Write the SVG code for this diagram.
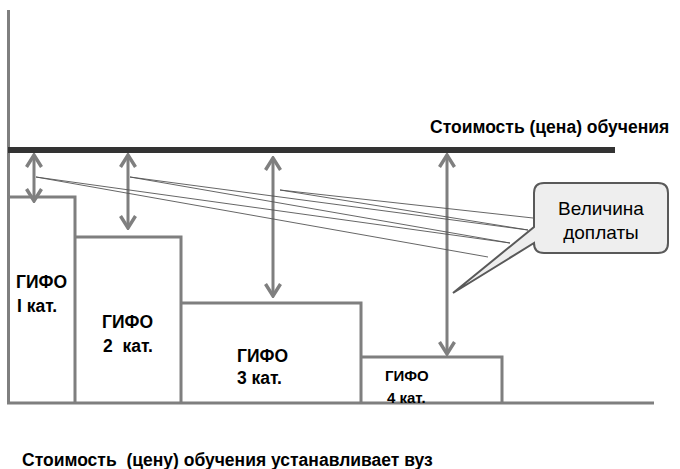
<svg xmlns="http://www.w3.org/2000/svg" width="680" height="469" viewBox="0 0 680 469">
  <style>
    .frame { fill: none; stroke: #7f7f7f; stroke-width: 3; }
    .arr { fill: none; stroke: #7f7f7f; stroke-width: 3; }
    .thin { fill: none; stroke: #555555; stroke-width: 0.9; }
    .lbl { font-family: "Liberation Sans", Arial, sans-serif; font-weight: bold; font-size: 17.5px; fill: #000; }
    .sm { font-size: 15px; }
    .call { font-family: "Liberation Sans", Arial, sans-serif; font-size: 19px; fill: #000; }
  </style>
  <defs>
    <marker id="head" markerUnits="userSpaceOnUse" viewBox="-16 -10 18 20" refX="0" refY="0" markerWidth="18" markerHeight="20" orient="auto-start-reverse">
      <path d="M-12,-7.5 L0,0 L-12,7.5" fill="none" stroke="#7f7f7f" stroke-width="3.4"/>
    </marker>
  </defs>
  <rect width="680" height="469" fill="#ffffff"/>

  <g id="axes">
    <line x1="8.5" y1="10" x2="8.5" y2="404" class="frame"/>
    <line x1="7" y1="403" x2="654" y2="403" class="frame"/>
    <line x1="8" y1="150" x2="615" y2="150" stroke="#333333" stroke-width="6"/>
  </g>

  <g id="gifo1">
    <polyline points="8,197 75,197 75,403" class="frame"/>
    <text x="16" y="288" class="lbl">ГИФО</text>
    <text x="17" y="312" class="lbl">I кат.</text>
  </g>
  <g id="gifo2">
    <polyline points="75,237 181,237 181,403" class="frame"/>
    <text x="102" y="328" class="lbl">ГИФО</text>
    <text x="103" y="352" class="lbl" xml:space="preserve">2  кат.</text>
  </g>
  <g id="gifo3">
    <polyline points="181,303 361,303 361,403" class="frame"/>
    <text x="237" y="362" class="lbl">ГИФО</text>
    <text x="237" y="384" class="lbl">3 кат.</text>
  </g>
  <g id="gifo4">
    <polyline points="361,357 502,357 502,403" class="frame"/>
    <text x="385" y="381" class="lbl sm">ГИФО</text>
    <text x="387" y="403" class="lbl sm">4 кат.</text>
  </g>

  <g id="connectors">
    <line x1="34" y1="155" x2="34" y2="201" class="arr" marker-start="url(#head)" marker-end="url(#head)"/>
    <line x1="128" y1="155" x2="128" y2="228" class="arr" marker-start="url(#head)" marker-end="url(#head)"/>
    <line x1="273" y1="158" x2="273" y2="296" class="arr" marker-start="url(#head)" marker-end="url(#head)"/>
    <line x1="447" y1="155" x2="447" y2="354" class="arr" marker-start="url(#head)" marker-end="url(#head)"/>
    <line x1="36" y1="177" x2="510" y2="243" class="thin"/>
    <line x1="36" y1="177" x2="488" y2="257" class="thin"/>
    <line x1="130" y1="177" x2="528" y2="230" class="thin"/>
    <line x1="130" y1="177" x2="510" y2="243" class="thin"/>
    <line x1="280" y1="190" x2="533" y2="218" class="thin"/>
    <line x1="280" y1="190" x2="528" y2="230" class="thin"/>
  </g>

  <g id="callout">
    <path d="M544,183 H658 Q668,183 668,193 V243 Q668,253 658,253 H544 Q534,253 534,243 L453,293 L534,227 V193 Q534,183 544,183 Z" fill="#eeeeee" stroke="#595959" stroke-width="2"/>
    <text x="601" y="215" text-anchor="middle" class="call">Величина</text>
    <text x="601" y="239" text-anchor="middle" class="call">доплаты</text>
  </g>

  <g id="titles">
    <text x="430" y="133" class="lbl">Стоимость (цена) обучения</text>
    <text x="22" y="466" class="lbl" xml:space="preserve">Стоимость  (цену) обучения устанавливает вуз</text>
  </g>
</svg>
